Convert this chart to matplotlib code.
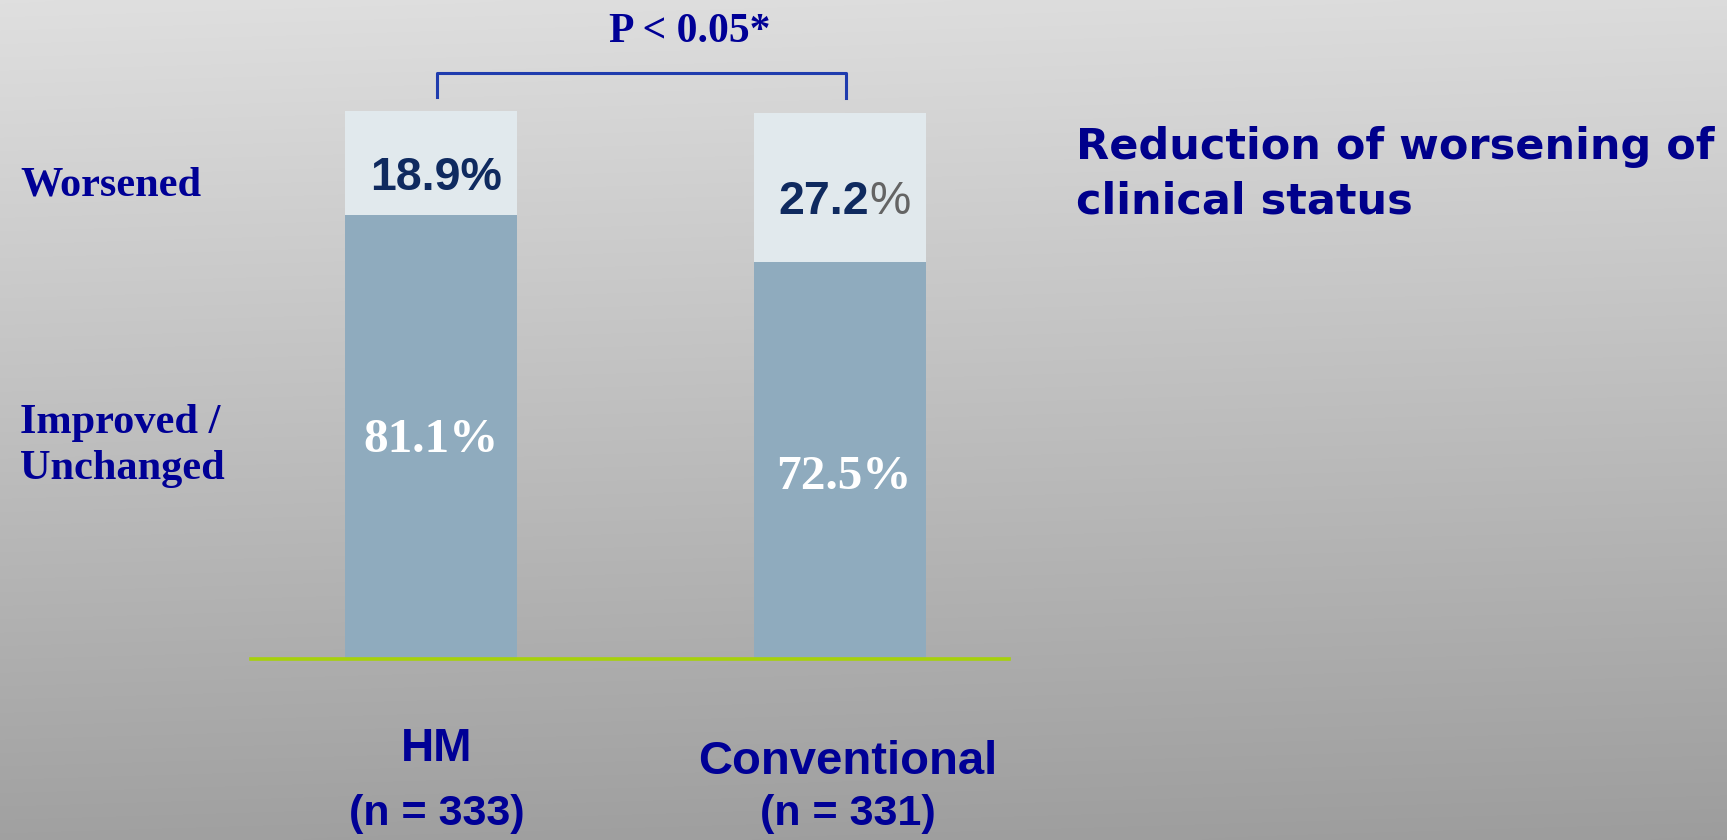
import numpy as np
import matplotlib
matplotlib.use("Agg")
import matplotlib.pyplot as plt

# Data
groups = ["HM", "Conventional"]
group_n = ["(n = 333)", "(n = 331)"]
improved = [81.1, 72.5]      # Improved / Unchanged (%)
worsened = [18.9, 27.2]      # Worsened (%)
p_label = "P < 0.05*"
title_lines = ["Reduction of worsening of", "clinical status"]

NAVY = "#000096"
TXT_DARK = "#0f2a5f"
LOWER = "#8fabbe"
UPPER = "#e1e9ed"

W, H, DPI = 1727, 840, 100
fig = plt.figure(figsize=(W / DPI, H / DPI), dpi=DPI)

# Background gradient (light grey at top, darker towards bottom)
bg = fig.add_axes([0, 0, 1, 1], zorder=0)
yy, xx = np.mgrid[0:1:200j, 0:1:200j]
shade = 0.875 - 0.245 * yy - 0.015 * xx
bg.imshow(np.dstack([shade] * 3), extent=[0, 1, 0, 1], aspect="auto",
          origin="upper", interpolation="bicubic")
bg.set_axis_off()

# Bar axes: y = 0 at the baseline, 100% at the bar tops
ax = fig.add_axes([251 / W, (H - 659) / H, 758 / W, 548 / H], zorder=1)
ax.set_xlim(-0.44, 1.413)
ax.set_ylim(0, 100)
ax.patch.set_alpha(0)
for s in ax.spines.values():
    s.set_visible(False)
ax.set_xticks([])
ax.set_yticks([])

x = np.arange(len(groups))
bw = 0.42
ax.bar(x, improved, width=bw, color=LOWER, zorder=2)
ax.bar(x, worsened, width=bw, bottom=improved, color=UPPER, zorder=2)
ax.axhline(0, color="#a6d10a", lw=2.6, zorder=3, clip_on=False)

# Significance bracket
bx0, bx1 = x[0] + 0.015, x[1] + 0.015
ax.plot([bx0, bx0, bx1, bx1], [102.6, 106.9, 106.9, 102.3],
        color="#1f3cae", lw=2.2, clip_on=False, zorder=3)

serif_b = dict(family=["Liberation Serif", "DejaVu Serif"], weight="bold")
sans_b = dict(family=["Liberation Sans", "DejaVu Sans"], weight="bold")

# Segment values
ax.text(x[0], 40.0, f"{improved[0]:.1f}%", color="white", fontsize=35.5,
        ha="center", va="center", **serif_b)
ax.text(x[1] + 0.01, 33.3, f"{improved[1]:.1f}%", color="white", fontsize=35.5,
        ha="center", va="center", **serif_b)
ax.text(x[0] + 0.012, 87.8, f"{worsened[0]:.1f}%", color=TXT_DARK, fontsize=33.5,
        ha="center", va="center", **sans_b)
t = ax.text(x[1] - 0.04, 83.4, f"{worsened[1]:.1f}", color=TXT_DARK, fontsize=33.5,
            ha="center", va="center", **sans_b)
ax.annotate("%", xycoords=t, xy=(1, 0.5), va="center", ha="left",
            color="#646464", fontsize=33.5,
            family=["Liberation Sans", "DejaVu Sans"])

# P-value label
fig.text(690 / W, 1 - 32 / H, p_label, color=NAVY, fontsize=30,
         ha="center", va="center", **serif_b)

# Row labels
fig.text(20 / W, 1 - 186 / H, "Worsened", color=NAVY, fontsize=30.5,
         ha="left", va="center", **serif_b)
fig.text(20 / W, 1 - 423 / H, "Improved /", color=NAVY, fontsize=30.5,
         ha="left", va="center", **serif_b)
fig.text(20 / W, 1 - 469 / H, "Unchanged", color=NAVY, fontsize=30.5,
         ha="left", va="center", **serif_b)

# Group labels
fig.text(437 / W, 1 - 749 / H, groups[0], color=NAVY, fontsize=33,
         ha="center", va="center", **sans_b)
fig.text(848 / W, 1 - 762 / H, groups[1], color=NAVY, fontsize=34,
         ha="center", va="center", **sans_b)
fig.text(437 / W, 1 - 814 / H, group_n[0], color=NAVY, fontsize=31,
         ha="center", va="center", **sans_b)
fig.text(848 / W, 1 - 814 / H, group_n[1], color=NAVY, fontsize=31,
         ha="center", va="center", **sans_b)

# Side title
fig.text(1076 / W, 1 - 147 / H, title_lines[0], color="#00008c", fontsize=31,
         ha="left", va="center", family=["DejaVu Sans"], weight="bold")
fig.text(1076 / W, 1 - 202 / H, title_lines[1], color="#00008c", fontsize=31,
         ha="left", va="center", family=["DejaVu Sans"], weight="bold")

fig.savefig("out.png", dpi=DPI)
